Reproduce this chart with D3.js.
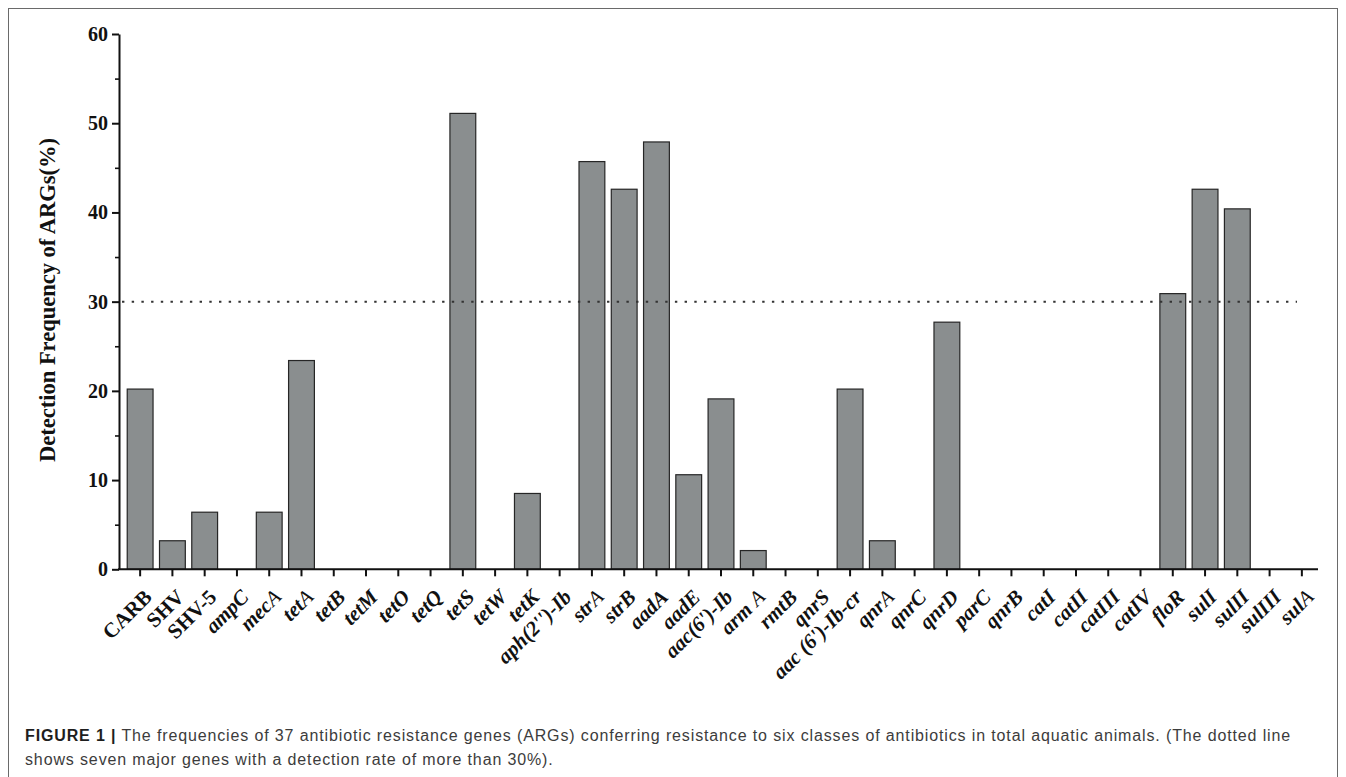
<!DOCTYPE html>
<html>
<head>
<meta charset="utf-8">
<script src="https://cdn.jsdelivr.net/npm/d3@7/dist/d3.min.js"></script>
<style>
  body { margin: 0; background: #fff; }
  svg { display: block; }
</style>
</head>
<body>
<svg id="chart" width="1346" height="777"></svg>
<script>
// Antibiotic resistance genes, in plotting order
const genes = [
  "CARB", "SHV", "SHV-5", "ampC", "mecA", "tetA", "tetB", "tetM", "tetO", "tetQ",
  "tetS", "tetW", "tetK", "aph(2'')-Ib", "strA", "strB", "aadA", "aadE", "aac(6')-Ib",
  "arm A", "rmtB", "qnrS", "aac (6')-Ib-cr", "qnrA", "qnrC", "qnrD", "parC", "qnrB",
  "catI", "catII", "catIII", "catIV", "floR", "sulI", "sulII", "sulIII", "sulA"
];

// Detection frequency (%) of each gene
const frequency = [
  20.2, 3.2, 6.4, 0, 6.4, 23.4, 0, 0, 0, 0,
  51.1, 0, 8.5, 0, 45.7, 42.6, 47.9, 10.6, 19.1,
  2.1, 0, 0, 20.2, 3.2, 0, 27.7, 0, 0,
  0, 0, 0, 0, 30.9, 42.6, 40.4, 0, 0
];

const majorTicks = [0, 10, 20, 30, 40, 50, 60];
const minorTicks = [5, 15, 25, 35, 45, 55];
const threshold = 30;

// Gene names set in upright type; the rest are italic
const uprightGenes = ["CARB", "SHV", "SHV-5"];
// Gene names whose trailing "A" is set in a lighter weight
const lightSuffixGenes = ["mecA", "tetA", "strA", "arm A", "qnrA", "sulA"];

const yTitle = "Detection Frequency of ARGs(%)";
const captionLead = "FIGURE 1 |";
const captionLine1 = " The frequencies of 37 antibiotic resistance genes (ARGs) conferring resistance to six classes of antibiotics in total aquatic animals. (The dotted line";
const captionLine2 = "shows seven major genes with a detection rate of more than 30%).";

const svg = d3.select("#chart");
const serif = "'Liberation Serif', 'Times New Roman', serif";
const sans = "'Liberation Sans', Arial, Helvetica, sans-serif";

// Outer figure frame
svg.append("rect")
  .attr("x", 8.5).attr("y", 8.5)
  .attr("width", 1329).attr("height", 800)
  .attr("fill", "none").attr("stroke", "#6a6a6a").attr("stroke-width", 1);

const x = d3.scaleBand()
  .domain(genes)
  .range([124, 1318])
  .paddingInner(0.2)
  .paddingOuter(0.1);

const y = d3.scaleLinear()
  .domain([0, 60])
  .range([569.3, 34]);

const axisX = 119;

// Bars
svg.append("g")
  .selectAll("rect")
  .data(genes.map((g, i) => ({ gene: g, value: frequency[i] })).filter(d => d.value > 0))
  .join("rect")
  .attr("x", d => x(d.gene))
  .attr("y", d => y(d.value))
  .attr("width", x.bandwidth())
  .attr("height", d => y(0) - y(d.value))
  .attr("fill", "#8a8e8f")
  .attr("stroke", "#262626")
  .attr("stroke-width", 1.2);

// 30% reference line
svg.append("line")
  .attr("x1", 122).attr("x2", 1297)
  .attr("y1", y(threshold)).attr("y2", y(threshold))
  .attr("stroke", "#333")
  .attr("stroke-width", 2)
  .attr("stroke-dasharray", "2.4,7.3");

// Y axis: major ticks with labels
const gy = svg.append("g")
  .attr("transform", `translate(${axisX},0)`)
  .call(d3.axisLeft(y).tickValues(majorTicks).tickSize(7).tickSizeOuter(0).tickPadding(4).tickFormat(d3.format("d")));
gy.select(".domain").attr("stroke", "#111").attr("stroke-width", 2);
gy.selectAll(".tick line").attr("stroke", "#111").attr("stroke-width", 2);
gy.selectAll(".tick text")
  .attr("font-family", serif)
  .attr("font-weight", "bold")
  .attr("font-size", 20)
  .attr("fill", "#111");

// Y axis: minor ticks
const gyMinor = svg.append("g")
  .attr("transform", `translate(${axisX},0)`)
  .call(d3.axisLeft(y).tickValues(minorTicks).tickSize(4).tickSizeOuter(0).tickFormat(""));
gyMinor.select(".domain").remove();
gyMinor.selectAll(".tick line").attr("stroke", "#111").attr("stroke-width", 1.6);

// X axis
const gx = svg.append("g")
  .attr("transform", `translate(0,${y(0)})`)
  .call(d3.axisBottom(x).tickSize(7).tickSizeOuter(0));
gx.select(".domain")
  .attr("d", `M${axisX - 1},0H1318`)
  .attr("stroke", "#111").attr("stroke-width", 2);
gx.selectAll(".tick line").attr("stroke", "#111").attr("stroke-width", 2);
gx.selectAll(".tick text")
  .attr("font-family", serif)
  .attr("font-weight", "bold")
  .attr("font-size", 21)
  .attr("fill", "#111")
  .attr("text-anchor", "end")
  .attr("x", 13)
  .attr("y", 29)
  .attr("dy", 0)
  .attr("transform", "rotate(-45 13 29)")
  .each(function (d) {
    const t = d3.select(this);
    t.text(null);
    const italic = !uprightGenes.includes(d);
    t.attr("font-style", italic ? "italic" : "normal");
    if (lightSuffixGenes.includes(d)) {
      t.append("tspan").text(d.slice(0, -1));
      t.append("tspan").attr("font-weight", "normal").text(d.slice(-1));
    } else {
      t.text(d);
    }
  });

// Y axis title
svg.append("text")
  .attr("transform", "translate(55,300) rotate(-90)")
  .attr("text-anchor", "middle")
  .attr("font-family", serif)
  .attr("font-weight", "bold")
  .attr("font-size", 22.5)
  .attr("fill", "#111")
  .text(yTitle);

// Figure caption
const cap1 = svg.append("text")
  .attr("x", 25).attr("y", 741)
  .attr("font-family", sans)
  .attr("font-size", 16)
  .attr("fill", "#3c3c3c");
cap1.append("tspan").attr("font-weight", "bold").attr("fill", "#1e1e1e").text(captionLead);
cap1.append("tspan").text(captionLine1);

const cap2 = svg.append("text")
  .attr("x", 25).attr("y", 765)
  .attr("font-family", sans)
  .attr("font-size", 16)
  .attr("fill", "#3c3c3c")
  .text(captionLine2);

// Spread the caption to the column width
const targetWidth = 1266;
const natural = cap1.node().getComputedTextLength();
const nChars = (captionLead + captionLine1).length;
const spacing = (targetWidth - natural) / nChars;
cap1.attr("letter-spacing", spacing);
cap2.attr("letter-spacing", spacing);
</script>
</body>
</html>
